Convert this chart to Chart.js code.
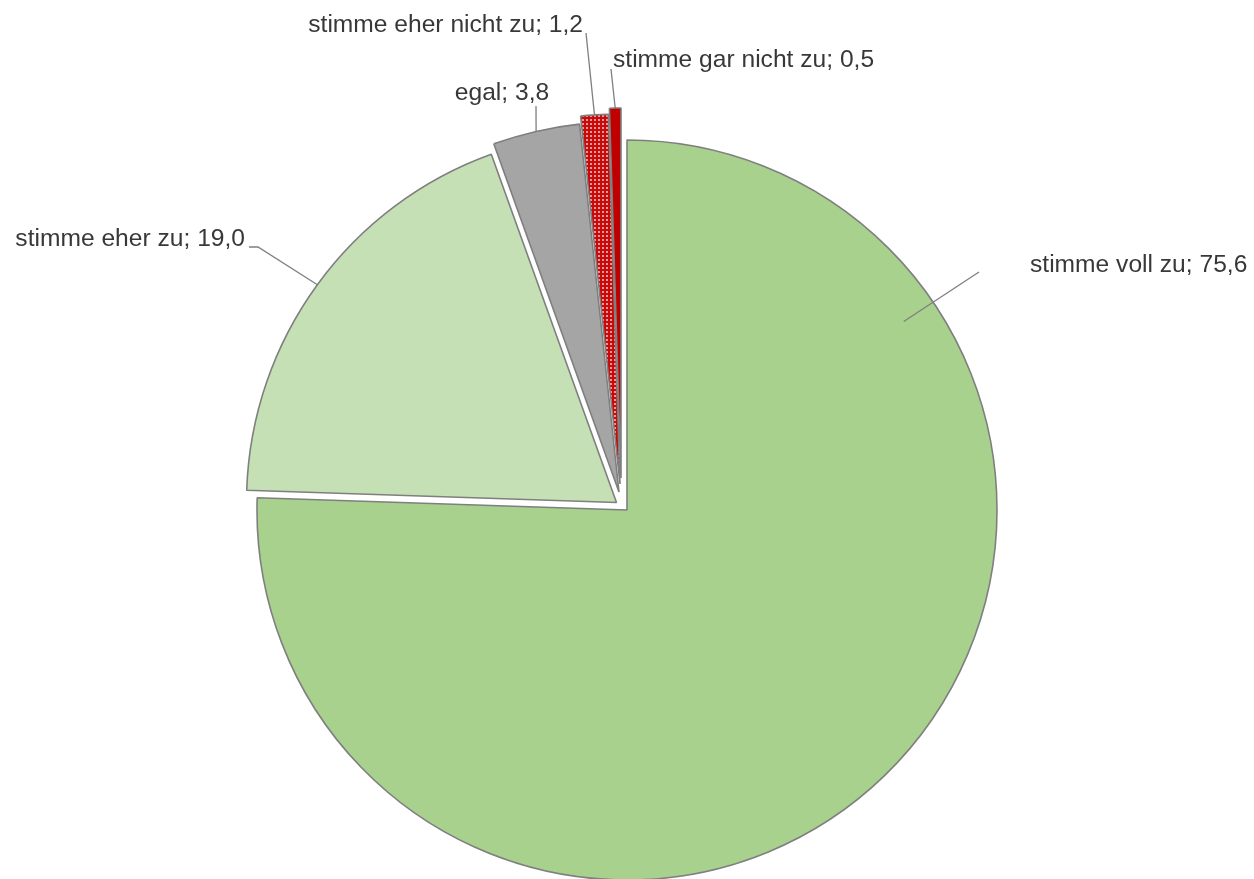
<!DOCTYPE html>
<html>
<head>
<meta charset="utf-8">
<script src="https://cdn.jsdelivr.net/npm/chart.js@4"></script>
<style>
  html, body { margin: 0; padding: 0; background: #fff; }
</style>
</head>
<body>
<canvas id="myChart" width="1254" height="879"></canvas>
<script>
const categories = ['stimme voll zu', 'stimme eher zu', 'egal', 'stimme eher nicht zu', 'stimme gar nicht zu'];
const shares = [75.6, 19.0, 3.8, 1.2, 0.5];
const valueLabels = ['75,6', '19,0', '3,8', '1,2', '0,5'];

// red checkered fill for "eher nicht zu"
function checkPattern() {
    var c = document.createElement('canvas');
    c.width = 4;
    c.height = 4;
    var p = c.getContext('2d');
    p.fillStyle = '#C80A0A';
    p.fillRect(0, 0, 4, 4);
    p.fillStyle = '#EE9A9A';
    p.fillRect(1, 1, 2, 2);
    return p.createPattern(c, 'repeat');
}

const sliceColors = ['#A9D18E', '#C5E0B4', '#A5A5A5', checkPattern(), '#C00000'];

// how far each slice is pulled out of the pie (dx, dy)
const explode = [[0, 0], [-10.5, -7.5], [-8, -18], [-7, -26], [-6, -32]];

// where the labels sit and where their leader lines start
const labelLayout = [
    {x: 1030, y: 272, align: 'left', line: [[979, 272]], t: 0.205, r: 0.905},
    {x: 245, y: 246, align: 'right', line: [[249, 247], [258, 247]], t: 0.5, r: 1},
    {x: 502, y: 100, align: 'center', line: [[536, 106]], t: 0.5, r: 1},
    {x: 583, y: 32, align: 'right', line: [[586, 33]], t: 0.5, r: 1},
    {x: 613, y: 67, align: 'left', line: [[611, 69]], t: 0.5, r: 1}
];

const explodedSlices = {
    id: 'explodedSlices',
    beforeDatasetDraw(chart, args) {
        var ctx = chart.ctx;
        args.meta.data.forEach((arc, i) => {
            ctx.save();
            ctx.translate(explode[i][0], explode[i][1]);
            arc.draw(ctx);
            ctx.restore();
        });
        return false;
    }
};

const sliceLabels = {
    id: 'sliceLabels',
    afterDatasetsDraw(chart) {
        var ctx = chart.ctx;
        var meta = chart.getDatasetMeta(0);
        ctx.save();
        ctx.font = '24.6px "Liberation Sans", Arial, sans-serif';
        ctx.fillStyle = '#383838';
        ctx.textBaseline = 'alphabetic';
        meta.data.forEach((arc, i) => {
            var lay = labelLayout[i];
            var p = arc.getProps(['x', 'y', 'startAngle', 'endAngle', 'outerRadius'], true);
            var a = p.startAngle + lay.t * (p.endAngle - p.startAngle);
            var ax = p.x + explode[i][0] + Math.cos(a) * p.outerRadius * lay.r;
            var ay = p.y + explode[i][1] + Math.sin(a) * p.outerRadius * lay.r;

            ctx.strokeStyle = '#7F7F7F';
            ctx.lineWidth = 1.3;
            ctx.beginPath();
            ctx.moveTo(lay.line[0][0], lay.line[0][1]);
            for (var k = 1; k < lay.line.length; k++) ctx.lineTo(lay.line[k][0], lay.line[k][1]);
            ctx.lineTo(ax, ay);
            ctx.stroke();

            ctx.textAlign = lay.align;
            ctx.fillText(categories[i] + '; ' + valueLabels[i], lay.x, lay.y);
        });
        ctx.restore();
    }
};

var ctx = document.getElementById('myChart').getContext('2d');

var chart = new Chart(ctx, {
    type: 'pie',
    data: {
        labels: categories,
        datasets: [{
            data: shares,
            backgroundColor: sliceColors,
            borderColor: '#7F7F7F',
            borderWidth: 1.6
        }]
    },
    options: {
        responsive: false,
        animation: false,
        radius: 370,
        layout: {padding: {top: 141, bottom: 0, left: 0, right: 0}},
        plugins: {
            legend: {display: false},
            tooltip: {enabled: false}
        }
    },
    plugins: [explodedSlices, sliceLabels]
});
</script>
</body>
</html>
